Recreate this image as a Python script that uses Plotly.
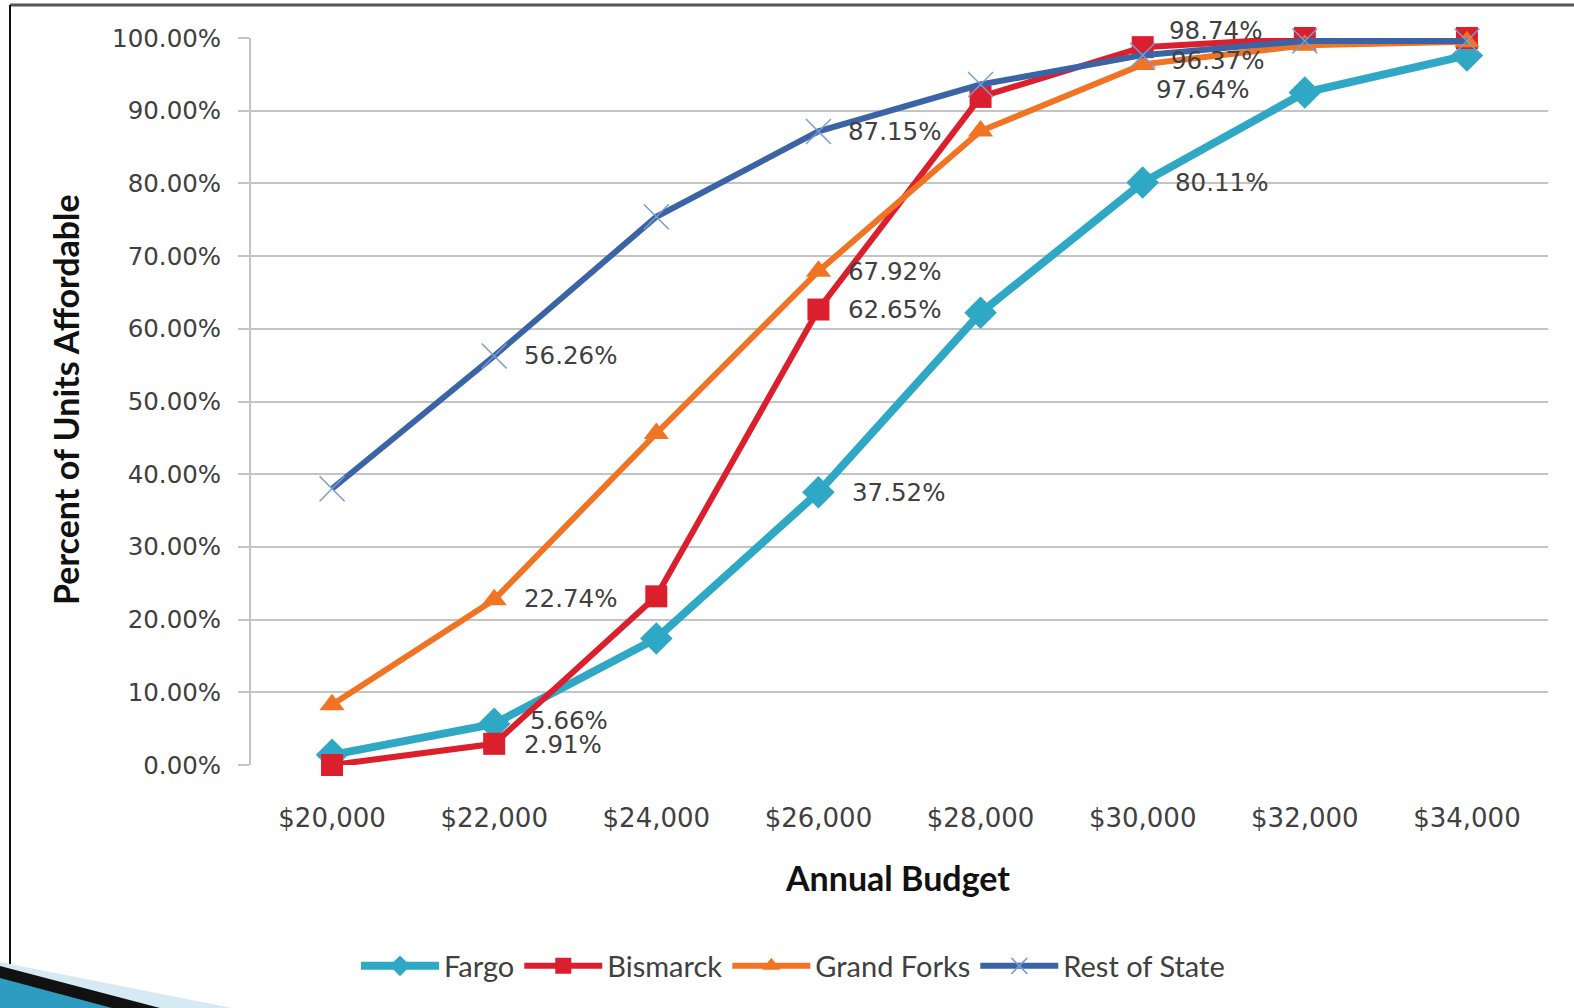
import plotly.graph_objects as go

# data
budgets = ["$20,000", "$22,000", "$24,000", "$26,000", "$28,000", "$30,000", "$32,000", "$34,000"]
fargo = [1.4, 5.66, 17.4, 37.52, 62.2, 80.11, 92.5, 97.6]
bismarck = [0.0, 2.91, 23.2, 62.65, 91.9, 98.74, 100.0, 100.0]
grand_forks = [8.3, 22.74, 45.6, 67.92, 87.2, 96.37, 99.0, 99.5]
rest_of_state = [38.0, 56.26, 75.4, 87.15, 93.6, 97.64, 99.6, 99.6]

# which points carry a data label (index into budgets)
labelled = [1, 3, 5]

W, H = 1574, 1008
L, R, T, B = 251, 26, 38, 243
pw, ph = W - L - R, H - T - B


def px(x):
    return (x - L) / pw


def py(y):
    return (H - B - y) / ph


grey_txt = "#404040"

series = [
    ("Fargo", fargo, "#2EA8C4", 8, dict(symbol="diamond", size=25, color="#2EA8C4")),
    ("Bismarck", bismarck, "#DC1F2C", 6, dict(symbol="square", size=22, color="#DC1F2C")),
    ("Grand Forks", grand_forks, "#F07424", 6, dict(symbol="triangle-up", size=22, color="#F07424")),
    ("Rest of State", rest_of_state, "#3B64A6", 6,
     dict(symbol="x-thin-open", size=25, color="#7C9BD0", line=dict(width=1.5, color="#7C9BD0"))),
]

fig = go.Figure()
for name, vals, col, lw, mk in series:
    fig.add_trace(go.Scatter(x=budgets, y=vals, name=name, mode="lines+markers",
                             line=dict(color=col, width=lw), marker=mk, cliponaxis=False))

# label offsets (pixels) per series, per labelled point
offsets = {
    "Fargo": [(34, 3), (32, 0), (30, 0)],
    "Bismarck": [(28, -1), (28, 0), (24, 17)],
    "Grand Forks": [(28, 1), (28, 0), (26, 4)],
    "Rest of State": [(28, 0), (28, 0), (11, -34)],
}
for name, vals, col, lw, mk in series:
    for k, i in enumerate(labelled):
        dx, dy = offsets[name][k]
        fig.add_annotation(x=budgets[i], y=vals[i], text=f"{vals[i]:.2f}%", showarrow=False,
                           xanchor="left", yanchor="middle", xshift=dx, yshift=dy,
                           font=dict(family="DejaVu Sans", size=24.5, color=grey_txt))

fig.add_annotation(x=px(897), y=py(878), xref="paper", yref="paper", text="<b>Annual Budget</b>",
                   xanchor="center", yanchor="middle",
                   showarrow=False, font=dict(family="Lato", size=34, color="#111111"))
fig.add_annotation(x=px(66), y=py(400), xref="paper", yref="paper", text="<b>Percent of Units Affordable</b>",
                   xanchor="center", yanchor="middle",
                   textangle=-90, showarrow=False, font=dict(family="Lato", size=34, color="#111111"))

# slide frame and corner decoration
fig.add_shape(type="line", xref="paper", yref="paper", x0=px(10), x1=px(W), y0=py(5), y1=py(5),
              line=dict(color="#555555", width=3))
fig.add_shape(type="line", xref="paper", yref="paper", x0=px(10), x1=px(10), y0=py(5), y1=py(H),
              line=dict(color="#111111", width=2))
fig.add_shape(type="path", xref="paper", yref="paper",
              path=f"M {px(0)},{py(962)} L {px(232)},{py(H)} L {px(0)},{py(H)} Z",
              fillcolor="#D5EAF3", line=dict(width=0))
fig.add_shape(type="path", xref="paper", yref="paper",
              path=f"M {px(0)},{py(966)} L {px(160)},{py(H)} L {px(0)},{py(H)} Z",
              fillcolor="#111111", line=dict(width=0))
fig.add_shape(type="path", xref="paper", yref="paper",
              path=f"M {px(0)},{py(978)} L {px(112)},{py(H)} L {px(0)},{py(H)} Z",
              fillcolor="#2D9CC0", line=dict(width=0))

fig.update_layout(
    width=W, height=H,
    margin=dict(l=L, r=R, t=T, b=B, autoexpand=False),
    paper_bgcolor="white", plot_bgcolor="white",
    showlegend=True,
    legend=dict(orientation="h", x=px(793), xanchor="center", y=py(966), yanchor="middle",
                font=dict(family="Lato", size=29, color=grey_txt), itemwidth=78, traceorder="normal"),
    xaxis=dict(type="category", range=[-0.5, 7.5], showgrid=False, zeroline=False, showline=False,
               tickfont=dict(family="DejaVu Sans", size=26, color=grey_txt), ticks="", ticklabelstandoff=35),
    yaxis=dict(range=[0, 100], dtick=10, tickformat=".2f", ticksuffix="%", showgrid=True,
               gridcolor="#C4C4C4", gridwidth=2, zeroline=False, showline=True, linecolor="#C4C4C4",
               linewidth=2, ticks="outside", ticklen=11, tickcolor="#C4C4C4", tickwidth=2,
               tickfont=dict(family="DejaVu Sans", size=24.5, color=grey_txt), ticklabelstandoff=12),
)

# the page body has a default 8px margin; drop it so the figure sits at the window corner
fig.write_html("out.html", config={"displayModeBar": False},
               post_script="document.body.style.margin='0';")
